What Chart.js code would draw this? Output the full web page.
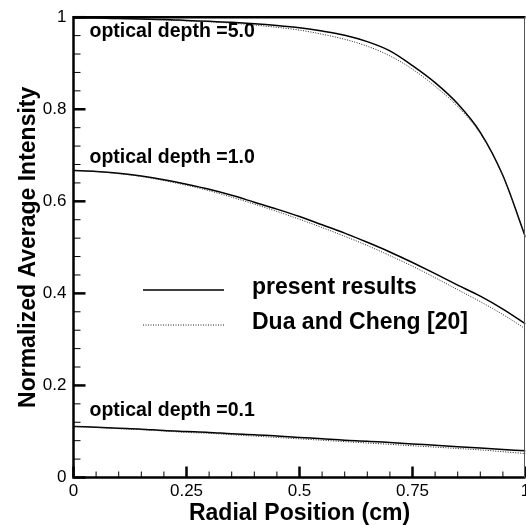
<!DOCTYPE html>
<html lang="en">

<head>
    <meta charset="UTF-8">
    <title>Normalized Average Intensity</title>
    <script src="https://cdn.jsdelivr.net/npm/chart.js@4.4.0/dist/chart.umd.min.js"></script>
    <style>
        html, body { margin: 0; padding: 0; overflow: hidden; background: #fff; }
    </style>
</head>

<body>

    <canvas id="chart" width="540" height="525"></canvas>

    <script>
        // values, radial position 0..1 cm
        const radialPos = [0, 0.05, 0.1, 0.15, 0.2, 0.25, 0.3, 0.35, 0.4, 0.45, 0.5,
            0.55, 0.6, 0.65, 0.7, 0.75, 0.8, 0.85, 0.9, 0.95, 1];

        const present50 = [0.998, 0.998, 0.997, 0.996, 0.995, 0.993, 0.991, 0.989, 0.986, 0.982, 0.977,
            0.970, 0.961, 0.947, 0.927, 0.895, 0.858, 0.812, 0.750, 0.656, 0.522];
        const dua50 = [0.998, 0.998, 0.997, 0.996, 0.994, 0.992, 0.990, 0.987, 0.983, 0.978, 0.972,
            0.963, 0.952, 0.937, 0.916, 0.887, 0.850, 0.806, 0.747, 0.656, 0.522];

        const present10 = [0.667, 0.665, 0.661, 0.655, 0.647, 0.637, 0.626, 0.613, 0.598, 0.583, 0.567,
            0.549, 0.531, 0.511, 0.490, 0.467, 0.443, 0.418, 0.394, 0.366, 0.334];
        const dua10 = [0.667, 0.665, 0.660, 0.654, 0.645, 0.635, 0.623, 0.609, 0.594, 0.578, 0.561,
            0.543, 0.524, 0.504, 0.482, 0.459, 0.434, 0.408, 0.382, 0.354, 0.323];

        const present01 = [0.111, 0.109, 0.107, 0.105, 0.102, 0.100, 0.098, 0.095, 0.093, 0.090, 0.087,
            0.084, 0.081, 0.079, 0.076, 0.073, 0.070, 0.067, 0.064, 0.061, 0.058];
        const dua01 = [0.111, 0.109, 0.106, 0.104, 0.101, 0.098, 0.096, 0.093, 0.090, 0.087, 0.084,
            0.081, 0.078, 0.075, 0.072, 0.069, 0.066, 0.063, 0.060, 0.056, 0.052];

        const depthLabels = ['optical depth =5.0', 'optical depth =1.0', 'optical depth =0.1'];
        const legendNames = ['present results', 'Dua and Cheng [20]'];

        const FONT = "'Liberation Sans', Arial, Helvetica, sans-serif";
        Chart.defaults.font.family = FONT;
        Chart.defaults.color = '#000';

        function pts(arr) {
            return radialPos.map((x, i) => ({ x: x, y: arr[i] }));
        }

        function solid(arr) {
            return {
                data: pts(arr),
                borderColor: '#000',
                borderWidth: 1.5,
                pointRadius: 0,
                cubicInterpolationMode: 'monotone',
                fill: false
            };
        }

        function dotted(arr) {
            return {
                data: pts(arr),
                borderColor: '#222',
                borderWidth: 1,
                borderDash: [1, 1.5],
                pointRadius: 0,
                cubicInterpolationMode: 'monotone',
                fill: false
            };
        }

        // frame, inward ticks, depth labels and the legend
        const decorations = {
            id: 'decorations',
            afterDraw(chart) {
                const ctx = chart.ctx;
                const a = chart.chartArea;
                const xs = chart.scales.x;
                const ys = chart.scales.y;
                ctx.save();
                ctx.strokeStyle = '#000';

                // x ticks
                for (let i = 0; i <= 20; i++) {
                    const px = xs.getPixelForValue(i * 0.05);
                    const major = i % 5 === 0;
                    ctx.lineWidth = major ? 2.5 : 1;
                    ctx.beginPath();
                    ctx.moveTo(px, a.bottom);
                    ctx.lineTo(px, a.bottom - (major ? 11 : 6));
                    ctx.stroke();
                }
                // y ticks
                for (let i = 0; i <= 25; i++) {
                    const py = ys.getPixelForValue(i * 0.04);
                    const major = i % 5 === 0;
                    ctx.lineWidth = major ? 2.5 : 1;
                    ctx.beginPath();
                    ctx.moveTo(a.left, py);
                    ctx.lineTo(a.left + (major ? 12 : 7), py);
                    ctx.stroke();
                }

                // frame
                ctx.lineWidth = 2.5;
                ctx.beginPath();
                ctx.moveTo(a.right, a.top);
                ctx.lineTo(a.left, a.top);
                ctx.lineTo(a.left, a.bottom);
                ctx.lineTo(a.right, a.bottom);
                ctx.stroke();
                ctx.lineWidth = 1;
                ctx.strokeStyle = '#555';
                ctx.beginPath();
                ctx.moveTo(a.right - 1, a.top);
                ctx.lineTo(a.right - 1, a.bottom);
                ctx.stroke();

                // depth labels
                ctx.fillStyle = '#000';
                ctx.font = 'bold 19.5px ' + FONT;
                ctx.textAlign = 'left';
                ctx.textBaseline = 'alphabetic';
                const baselines = [37, 163, 416];
                depthLabels.forEach((t, i) => ctx.fillText(t, a.left + 16, baselines[i]));

                // legend
                ctx.strokeStyle = '#000';
                ctx.lineWidth = 1.5;
                ctx.setLineDash([]);
                ctx.beginPath();
                ctx.moveTo(143, 290);
                ctx.lineTo(224, 290);
                ctx.stroke();
                ctx.lineWidth = 1;
                ctx.strokeStyle = '#222';
                ctx.setLineDash([1, 1.5]);
                ctx.beginPath();
                ctx.moveTo(143, 325);
                ctx.lineTo(224, 325);
                ctx.stroke();
                ctx.setLineDash([]);
                ctx.font = 'bold 23px ' + FONT;
                ctx.textBaseline = 'middle';
                ctx.fillText(legendNames[0], 252, 288);
                ctx.fillText(legendNames[1], 252, 323);
                ctx.restore();
            }
        };

        const ctx = document.getElementById('chart').getContext('2d');
        const chart = new Chart(ctx, {
            type: 'line',
            data: {
                datasets: [dotted(dua50), dotted(dua10), dotted(dua01),
                    solid(present50), solid(present10), solid(present01)]
            },
            options: {
                responsive: false,
                animation: false,
                layout: { padding: { top: 16, right: 14.5, left: 0, bottom: 0 } },
                plugins: {
                    legend: { display: false },
                    tooltip: { enabled: false }
                },
                scales: {
                    x: {
                        type: 'linear',
                        min: 0,
                        max: 1,
                        grid: { display: false, drawTicks: false },
                        border: { display: false },
                        ticks: {
                            stepSize: 0.25,
                            padding: 4,
                            maxRotation: 0,
                            font: { size: 17 },
                            callback: v => String(v)
                        },
                        title: {
                            display: true,
                            text: 'Radial Position (cm)',
                            font: { size: 23, weight: 'bold', lineHeight: 1 },
                            padding: 0
                        },
                        afterFit(scale) { scale.height = 47.5; }
                    },
                    y: {
                        min: 0,
                        max: 1,
                        grid: { display: false, drawTicks: false },
                        border: { display: false },
                        ticks: {
                            stepSize: 0.2,
                            padding: 7,
                            font: { size: 17 },
                            callback: v => String(Math.round(v * 10) / 10)
                        },
                        title: {
                            display: true,
                            text: 'Normalized Average Intensity',
                            font: { size: 23, weight: 'bold' },
                            padding: { top: 15, bottom: 0 }
                        },
                        afterFit(scale) { scale.width = 73.5; }
                    }
                }
            },
            plugins: [decorations]
        });
    </script>
</body>

</html>
